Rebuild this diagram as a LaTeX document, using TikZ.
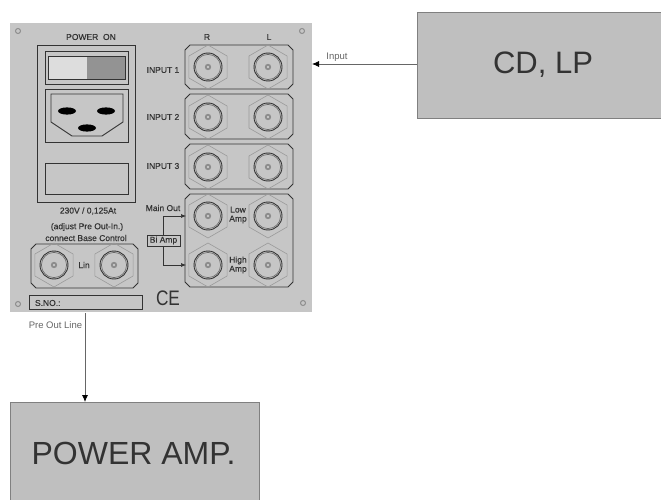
\documentclass[tikz,border=0pt]{standalone}
\usepackage{fontspec}
\setmainfont{Liberation Sans}
\newfontfamily\panelfont{Liberation Sans}[FakeBold=0.35]
\usetikzlibrary{arrows.meta,shapes.geometric,calc}
\definecolor{panelgray}{HTML}{C6C6C6}
\definecolor{boxgray}{HTML}{BFBFBF}
\definecolor{ink}{HTML}{333333}
\definecolor{hexgray}{HTML}{9A9A9A}
\tikzset{
  every node/.style={inner sep=0pt,outer sep=0pt},
  panelbox/.style={draw=ink,line width=0.9pt,fill=none},
  paneltxt/.style={font=\panelfont\fontsize{8.5}{9}\selectfont,text=ink},
  bigbox/.style={draw=black!50,line width=0.6pt,fill=boxgray,rectangle},
  bigtxt/.style={text=black!80,font=\fontsize{31}{33}\selectfont},
  wire/.style={draw=black!60,line width=0.8pt,-{Latex[length=7pt,width=6pt,color=black]}},
  thin wire/.style={draw=ink,line width=0.6pt,-{Latex[length=5pt,width=4pt]}},
  screw/.style={circle,draw=gray!90,line width=1pt,fill=panelgray,minimum size=5pt},
  outerlabel/.style={font=\fontsize{9.5}{10}\selectfont,text=black!60},
}
\newcommand{\bnc}[2]{%
  \draw[hexgray,line width=0.6pt] (#1,#2) ++(90:22) -- ++(-30:22) -- ++(-90:22) -- ++(-150:22) -- ++(150:22) -- ++(90:22) -- cycle;
  \draw[ink,line width=0.9pt] (#1,#2) circle[radius=14];
  \draw[black!60,line width=0.6pt] (#1,#2) circle[radius=12.6];
  \fill[gray!90] (#1,#2) circle[radius=3.2];
  \fill[panelgray!70] (#1,#2) circle[radius=1.2];
}
\newcommand{\chamf}[4]{%
  \draw[panelbox] (#1+5,#2) -- (#3-5,#2) -- (#3,#2+5) -- (#3,#4-5) -- (#3-5,#4) -- (#1+5,#4) -- (#1,#4-5) -- (#1,#2+5) -- cycle;
}
\begin{document}
\begin{tikzpicture}[x=1pt,y=-1pt]
\useasboundingbox (0,0) rectangle (661,500);
% front panel
\node[draw=none,fill=panelgray,minimum width=302pt,minimum height=289pt,anchor=north west] (panel) at (10,23) {};
\node[screw] (s1) at (18,31) {};
\node[screw] (s2) at (302,31) {};
\node[screw] (s3) at (18,304) {};
\node[screw] (s4) at (303,303) {};
% power module
\draw[panelbox] (37,45) rectangle (135,202);
\draw[panelbox] (45,51) rectangle (128,84);
\fill[panelgray!60] (48,56) rectangle (87,79);
\fill[gray!85] (87,56) rectangle (125,79);
\draw[panelbox] (48,56) rectangle (125,79);
\draw[panelbox] (45,89) rectangle (128,142);
\draw[panelbox] (51,94) -- (123,94) -- (123,122) -- (102,136) -- (72,136) -- (51,122) -- cycle;
\fill[black] (67,111) ellipse[x radius=9,y radius=3.6];
\fill[black] (106,111) ellipse[x radius=9,y radius=3.6];
\fill[black] (87,128) ellipse[x radius=9,y radius=3.6];
\draw[panelbox] (45,163) rectangle (128,194);
\node[paneltxt] (t1) at (91,37) {POWER\ \ ON};
\node[paneltxt] (t2) at (88,211) {230V / 0,125At};
\node[paneltxt] (t3) at (87,227) {(adjust Pre Out-In.)};
\node[paneltxt] (t4) at (86,238) {connect Base Control};
% Lin
\chamf{31}{244}{138}{288}
\bnc{54}{265}\bnc{114}{265}
\node[paneltxt] (lin) at (84,265) {Lin};
% serial
\draw[panelbox] (29,295) rectangle (142,309);
\node[paneltxt,anchor=west] (sno) at (35,303) {S.NO.:};
% inputs
\node[paneltxt] (r) at (207,37) {R};
\node[paneltxt] (l) at (269,37) {L};
\chamf{185}{45}{293}{89}
\chamf{185}{94}{293}{139}
\chamf{185}{144}{293}{189}
\chamf{185}{194}{293}{287}
\bnc{208}{67}\bnc{268}{67}
\bnc{208}{117}\bnc{268}{117}
\bnc{208}{167}\bnc{268}{167}
\bnc{208}{216}\bnc{268}{216}
\bnc{208}{265}\bnc{268}{265}
\node[paneltxt] (i1) at (163,70) {INPUT 1};
\node[paneltxt] (i2) at (163,117) {INPUT 2};
\node[paneltxt] (i3) at (163,166) {INPUT 3};
\node[paneltxt] (mo) at (163,208) {Main Out};
\node[paneltxt,align=center] (low) at (238,215) {Low\\Amp};
\node[paneltxt,align=center] (high) at (238,265) {High\\Amp};
% bi amp
\coordinate (lowin) at (186,216);
\coordinate (highin) at (186,265);
\draw[thin wire] (163,240) |- (lowin);
\draw[thin wire] (163,240) |- (highin);
\node[paneltxt,draw=ink,fill=panelgray,line width=0.6pt,minimum width=33pt,minimum height=11pt] (bi) at (163.5,240.5) {Bi Amp};
\node[text=ink,xscale=0.82,font=\fontsize{21}{22}\selectfont] (ce) at (168,298) {CE};
% external
\path[bigbox] (417,12) -- (661,12) -- (661,118) -- (417,118) -- cycle;
\path[bigbox] (10,402) -- (259,402) -- (259,500) -- (10,500) -- cycle;
\coordinate (cdw) at (417,64);
\coordinate (ampn) at (85,402);
\node[bigtxt] (cd) at (543,65) {CD, LP};
\node[bigtxt,font=\fontsize{32}{34}\selectfont] (amp) at (133.5,453) {POWER AMP.};
\coordinate (inhere) at (312,64);
\draw[wire] (cdw) -- (inhere);
\node[outerlabel] (inlab) at (337,57) {Input};
\coordinate (outhere) at (85,313);
\draw[wire] (outhere) -- (ampn);
\node[outerlabel] (outlab) at (55.5,325) {Pre Out Line};
\end{tikzpicture}
\end{document}
